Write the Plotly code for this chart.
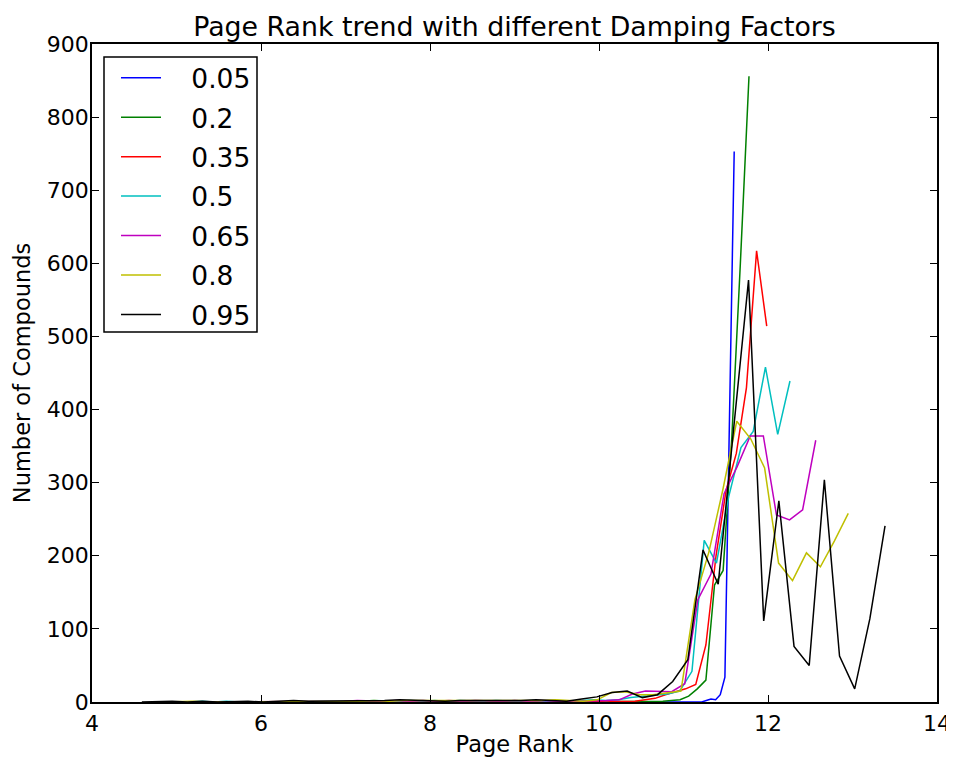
import numpy as np
import plotly.graph_objects as go

# Damping factors (legend labels) and matplotlib classic colours
damping = ["0.05", "0.2", "0.35", "0.5", "0.65", "0.8", "0.95"]
colors = ["#0000ff", "#008000", "#ff0000", "#00bfbf", "#bf00bf", "#bfbf00", "#000000"]

# Histogram bin range (Page Rank) of each series, 50 bins each
x_start = [8.905, 6.777, 6.105, 5.155, 4.97, 4.865, 4.59]
x_end = [11.60, 11.775, 11.985, 12.26, 12.565, 12.95, 13.385]

# Number of compounds per bin
counts_005 = [0, 0, 0, 0, 0, 0, 0, 0, 0, 0,
              0, 0, 0, 0, 0, 0, 0, 0, 0, 0,
              0, 0, 0, 0, 0, 0, 0, 0, 0, 0,
              0, 0, 0, 0, 0, 1, 0, 0, 1, 0,
              0, 1, 0, 2, 4, 3, 10, 34, 395, 753]
counts_020 = [0, 0, 0, 0, 0, 1, 0, 0, 0, 0,
              0, 1, 0, 0, 0, 0, 1, 0, 0, 0,
              0, 0, 1, 0, 0, 0, 0, 0, 1, 0,
              0, 0, 0, 0, 1, 0, 0, 1, 0, 1,
              2, 3, 8, 18, 30, 160, 180, 360, 600, 856]
counts_035 = [0, 0, 0, 0, 1, 0, 0, 0, 0, 1,
              0, 0, 0, 1, 0, 0, 1, 0, 0, 1,
              0, 1, 0, 0, 1, 0, 1, 0, 0, 1,
              0, 1, 0, 1, 1, 0, 1, 3, 5, 10,
              14, 18, 24, 78, 200, 290, 340, 430, 617, 514]
counts_050 = [0, 1, 0, 1, 0, 0, 1, 1, 0, 1,
              1, 1, 0, 1, 1, 2, 1, 1, 2, 1,
              2, 1, 2, 1, 1, 2, 1, 1, 2, 1,
              2, 1, 2, 3, 2, 3, 6, 8, 10, 11,
              15, 42, 221, 190, 281, 348, 370, 458, 366, 439]
counts_065 = [0, 0, 1, 0, 1, 1, 0, 1, 0, 1,
              1, 0, 1, 1, 2, 1, 1, 2, 1, 2,
              1, 2, 1, 2, 1, 1, 2, 1, 2, 1,
              1, 1, 1, 2, 3, 11, 15, 14, 14, 25,
              140, 175, 285, 322, 364, 364, 256, 249, 263, 358]
counts_080 = [0, 1, 1, 0, 0, 1, 0, 0, 1, 0,
              1, 1, 0, 1, 1, 2, 1, 2, 2, 1,
              2, 1, 1, 2, 1, 2, 1, 2, 3, 2,
              1, 3, 13, 14, 10, 10, 12, 15, 140, 205,
              290, 384, 360, 320, 190, 166, 204, 185, 220, 258]
counts_095 = [0, 1, 1, 0, 1, 0, 1, 1, 0, 1,
              2, 1, 1, 1, 1, 2, 2, 3, 2, 2,
              1, 2, 2, 1, 1, 2, 3, 2, 1, 4,
              7, 13, 15, 6, 10, 28, 58, 208, 161, 370,
              577, 111, 275, 76, 50, 304, 63, 18, 114, 241]

series = [counts_005, counts_020, counts_035, counts_050, counts_065, counts_080, counts_095]

x_ticks = [4, 6, 8, 10, 12, 14]
y_ticks = [0, 100, 200, 300, 400, 500, 600, 700, 800, 900]

FONT = "DejaVu Sans"

# The page adds an 8px body margin, so the figure is sized to compensate.
W, H = 946, 749
ML, MR, MT, MB = 84, 17, 36, 55
PW, PH = W - ML - MR, H - MT - MB  # 845 x 658

fig = go.Figure()
for i, (lab, col, vals) in enumerate(zip(damping, colors, series)):
    xs = np.linspace(x_start[i], x_end[i], len(vals))
    fig.add_trace(go.Scatter(
        x=xs, y=vals, mode="lines", name="   " + lab, legendgroup=lab,
        line=dict(color=col, width=1.5),
    ))

axis_common = dict(
    showgrid=False, zeroline=False, showline=True, linecolor="black", linewidth=1.5,
    mirror="ticks", ticks="inside", ticklen=7, tickwidth=1.2, tickcolor="black",
    tickfont=dict(family=FONT, size=22, color="black"), automargin=False,
)

# legend frame (drawn as a shape so the entries can sit inset like matplotlib's)
fig.add_shape(type="rect", xref="paper", yref="paper",
              x0=12 / PW, x1=165 / PW, y0=1 - 288 / PH, y1=1 - 13 / PH,
              line=dict(color="black", width=1.5), fillcolor="white", layer="above")

fig.update_layout(
    width=W, height=H, autosize=False,
    margin=dict(l=ML, r=MR, t=MT, b=MB, autoexpand=False),
    paper_bgcolor="white", plot_bgcolor="white",
    font=dict(family=FONT, color="black"),
    title=dict(text="Page Rank trend with different Damping Factors",
               x=0.5, xref="paper", xanchor="center",
               y=1 - 19 / H, yref="container", yanchor="middle",
               font=dict(family=FONT, size=26.8, color="black")),
    xaxis=dict(range=[4, 14], tickvals=x_ticks, ticktext=[str(v) for v in x_ticks],
               ticklabelstandoff=1,
               title=dict(text="Page Rank", font=dict(family=FONT, size=22.5), standoff=5),
               **axis_common),
    yaxis=dict(range=[0, 900], tickvals=y_ticks, ticktext=[str(v) for v in y_ticks],
               ticklabelstandoff=-3,
               title=dict(text="Number of Compounds", font=dict(family=FONT, size=22.5), standoff=10),
               **axis_common),
    legend=dict(x=24 / PW, y=1 - 10 / PH, xanchor="left", yanchor="top",
                bgcolor="rgba(0,0,0,0)", borderwidth=0,
                font=dict(family=FONT, size=26.5, color="black"),
                tracegroupgap=2, itemwidth=40),
    showlegend=True,
)

fig.write_html("out.html")
